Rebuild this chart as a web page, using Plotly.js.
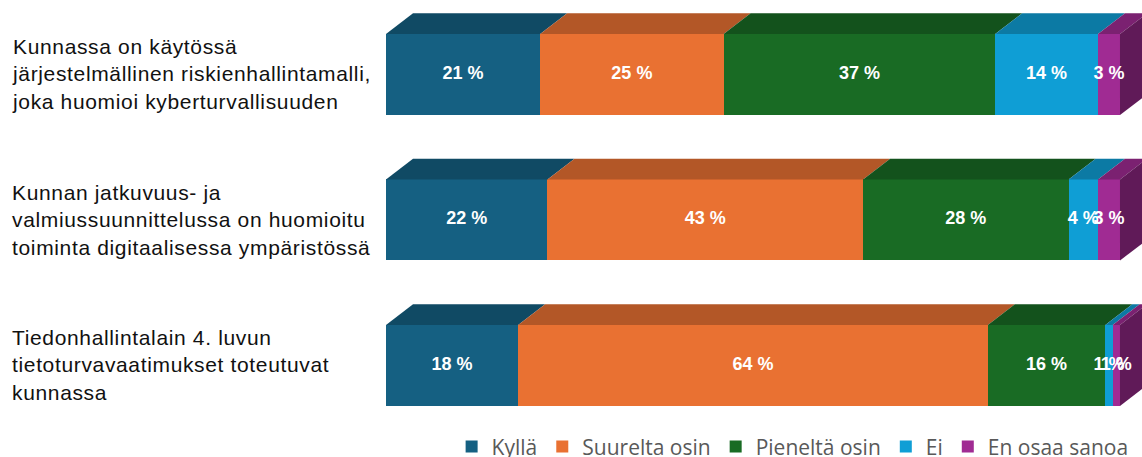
<!DOCTYPE html>
<html><head><meta charset="utf-8">
<script src="https://cdn.plot.ly/plotly-3.0.1.min.js"></script>
<style>html,body{margin:0;padding:0;background:#fff}</style>
</head><body><div id="chart" style="width:1142px;height:457px"></div>
<script>
// ---- data ----
const categories = [
  ["Kunnassa on käytössä", "järjestelmällinen riskienhallintamalli,", "joka huomioi kyberturvallisuuden"],
  ["Kunnan jatkuvuus- ja", "valmiussuunnittelussa on huomioitu", "toiminta digitaalisessa ympäristössä"],
  ["Tiedonhallintalain 4. luvun", "tietoturvavaatimukset toteutuvat", "kunnassa"]
];
const seriesNames = ["Kyllä", "Suurelta osin", "Pieneltä osin", "Ei", "En osaa sanoa"];
const kylla    = [21, 22, 18];
const suurelta = [25, 43, 64];
const pienelta = [37, 28, 16];
const ei       = [14, 4, 1];
const eos      = [3, 3, 1];

// ---- styles ----
const frontColors = ["#156082", "#E97132", "#196B24", "#0F9ED5", "#A02B93"];
const TOP_SHADE = 0.77, SIDE_SHADE = 0.6;
const BAR_W = 0.557;     // bar thickness in category units
const DEPTH_X = 3.68;    // 3D depth in value units
const DEPTH_Y = 0.142;   // 3D depth in category units

function shade(hex, f) {
  const n = parseInt(hex.slice(1), 16);
  const r = Math.round(((n >> 16) & 255) * f), g = Math.round(((n >> 8) & 255) * f), b = Math.round((n & 255) * f);
  return `rgb(${r},${g},${b})`;
}

const series = [kylla, suurelta, pienelta, ei, eos];
const rows = categories.map((_, i) => i);
const traces = [];

// front faces: stacked bars
series.forEach((vals, s) => {
  traces.push({
    type: "bar", orientation: "h", name: seriesNames[s],
    y: rows, x: vals, width: BAR_W,
    marker: { color: frontColors[s], line: { width: 0 } },
    hoverinfo: "skip"
  });
});

// top faces and end side face, computed from the stacked values
const labelX = [], labelY = [], labelT = [];
rows.forEach(i => {
  let cum = 0;
  const yt = i - BAR_W / 2, yb = i + BAR_W / 2;
  let lastS = 0, lastEnd = 0;
  series.forEach((vals, s) => {
    const v = vals[i];
    const x0 = cum, x1 = cum + v;
    traces.push({
      type: "scatter", mode: "lines", fill: "toself", showlegend: false, hoverinfo: "skip",
      x: [x0, x1, x1 + DEPTH_X, x0 + DEPTH_X, x0],
      y: [yt, yt, yt - DEPTH_Y, yt - DEPTH_Y, yt],
      fillcolor: shade(frontColors[s], TOP_SHADE), line: { width: 0 }
    });
    labelX.push((x0 + x1) / 2); labelY.push(i); labelT.push(v + " %");
    if (v > 0) { lastS = s; lastEnd = x1; }
    cum = x1;
  });
  traces.push({
    type: "scatter", mode: "lines", fill: "toself", showlegend: false, hoverinfo: "skip",
    x: [lastEnd, lastEnd + DEPTH_X, lastEnd + DEPTH_X, lastEnd, lastEnd],
    y: [yt, yt - DEPTH_Y, yb - DEPTH_Y, yb, yt],
    fillcolor: shade(frontColors[lastS], SIDE_SHADE), line: { width: 0 }
  });
});

// value labels
traces.push({
  type: "scatter", mode: "text", showlegend: false, hoverinfo: "skip",
  x: labelX, y: labelY, text: labelT, textposition: "middle center",
  textfont: { family: "Liberation Sans, Arial, sans-serif", size: 18, color: "#ffffff", weight: "bold" },
  cliponaxis: false
});

const W = 1142, H = 457, ML = 386, MB = 37;
const annotations = categories.map((lines, i) => ({
  xref: "paper", yref: "y", x: (10 - ML) / (W - ML), y: i,
  xanchor: "left", yanchor: "middle", align: "left", showarrow: false,
  text: lines.map(l => `<span style="letter-spacing:0.65px">${l}</span>`).join("<br>"),
  font: { family: "Liberation Sans, Arial, sans-serif", size: 21, color: "#111111" }
}));

const layout = {
  width: W, height: H,
  margin: { l: ML, r: 0, t: 0, b: MB, pad: 0 },
  paper_bgcolor: "#ffffff", plot_bgcolor: "#ffffff",
  barmode: "stack", bargap: 0,
  xaxis: { range: [0, 103], visible: false, fixedrange: true },
  yaxis: { range: [2.375, -0.512], visible: false, fixedrange: true },
  showlegend: true,
  legend: {
    orientation: "h", x: 0.0868, xanchor: "left", yref: "container", y: 0.022, yanchor: "middle",
    font: { family: "Open Sans, sans-serif", size: 21, color: "#595959" },
    traceorder: "normal", bgcolor: "rgba(0,0,0,0)"
  },
  annotations: annotations
};

Plotly.newPlot("chart", traces, layout, { displayModeBar: false, staticPlot: true });
</script>
</body></html>
